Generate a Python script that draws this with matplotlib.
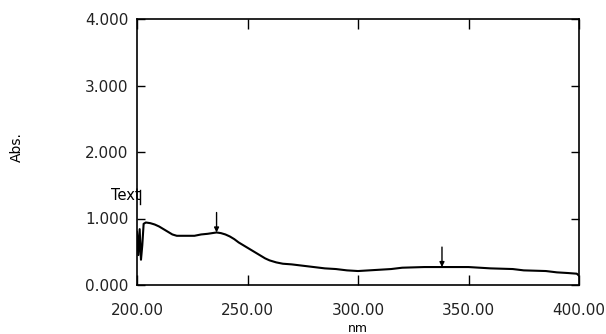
import matplotlib
matplotlib.use("Agg")
import matplotlib.pyplot as plt

# absorbance spectrum, wavelength in nm
wavelength = [200.0, 200.6, 201.2, 201.8, 202.4, 203.0, 204, 206, 208, 210, 212, 214,
              216, 218, 222, 226, 229, 232, 234, 236, 238, 240, 242, 244, 246, 248,
              250, 252, 254, 256, 258, 260, 263, 266, 270, 275, 280, 285, 290, 295,
              300, 305, 310, 315, 320, 330, 340, 350, 355, 360, 370, 375, 385, 390,
              395, 399, 400]
absorb = [0.80, 0.45, 0.84, 0.38, 0.60, 0.92, 0.94, 0.93, 0.91, 0.88, 0.84, 0.80,
          0.76, 0.74, 0.74, 0.74, 0.76, 0.77, 0.78, 0.79, 0.78, 0.76, 0.73, 0.69,
          0.64, 0.60, 0.56, 0.52, 0.48, 0.44, 0.40, 0.37, 0.34, 0.32, 0.31, 0.29,
          0.27, 0.25, 0.24, 0.22, 0.21, 0.22, 0.23, 0.24, 0.26, 0.27, 0.27, 0.27,
          0.26, 0.25, 0.24, 0.22, 0.21, 0.19, 0.18, 0.17, 0.14]

# peak picks (nm, abs)
peak_nm = [236.0, 338.0]
peak_abs = [0.79, 0.27]

x_ticks = [200, 250, 300, 350, 400]
y_ticks = [0, 1, 2, 3, 4]

plt.rcParams['font.family'] = ['DejaVu Sans']

fig = plt.figure(figsize=(6.06, 3.34), dpi=100)
ax = fig.add_axes([137 / 606, 1 - 285 / 334, 442 / 606, 266 / 334])

ax.plot(wavelength, absorb, color='black', lw=1.5)

for x, y in zip(peak_nm, peak_abs):
    ax.annotate('', xy=(x, y), xytext=(x, y + 0.3),
                arrowprops=dict(arrowstyle='-|>', color='black', lw=1.0,
                                mutation_scale=7, shrinkA=0, shrinkB=0))

ax.plot([201.3, 201.3], [1.22, 1.43], color='black', lw=1.0)
ax.text(-0.026, 0.338, 'Text', fontsize=10.5, ha='center', va='center',
        transform=ax.transAxes, clip_on=False)

ax.set_xlim(200, 400)
ax.set_ylim(0, 4)
ax.set_xticks(x_ticks)
ax.set_xticklabels([f'{v:.2f}' for v in x_ticks], fontsize=11, color='#222222')
ax.set_yticks(y_ticks)
ax.set_yticklabels([f'{v:.3f}' for v in y_ticks], fontsize=11, color='#222222')
ax.tick_params(axis='x', direction='in', length=7, width=1, top=True, pad=13)
ax.tick_params(axis='y', direction='in', length=6, width=1, right=True, pad=6)
for side in ax.spines.values():
    side.set_linewidth(1.2)

ax.set_xlabel('nm', fontsize=9, labelpad=0)
ax.xaxis.set_label_coords(0.5, -0.14)
ax.set_ylabel('Abs.', fontsize=10, labelpad=0)
ax.yaxis.set_label_coords(-0.255, 0.52)

fig.savefig('out.png', dpi=100)
